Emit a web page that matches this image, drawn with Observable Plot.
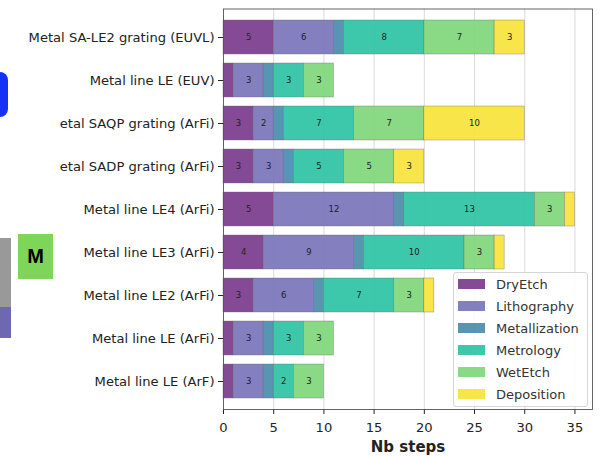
<!DOCTYPE html>
<html>
<head>
<meta charset="utf-8">
<script src="https://cdn.jsdelivr.net/npm/d3@7"></script>
<script src="https://cdn.jsdelivr.net/npm/@observablehq/plot@0.6"></script>
<style>
  html, body { margin: 0; padding: 0; background: #fff; }
  #wrap { position: relative; width: 602px; height: 456px; overflow: hidden; font-family: "DejaVu Sans", sans-serif; }
  #legend { position: absolute; left: 453px; top: 272px; width: 135px; background: rgba(255,255,255,0.85);
            border: 1px solid #d6d6d6; border-radius: 3px; box-sizing: border-box; padding: 0 0 1px 0; }
  .item { display: flex; align-items: center; height: 22px; font-size: 13px; color: #333; white-space: nowrap; }
  .sw { display: inline-block; width: 27px; height: 10px; margin-left: 4px; margin-right: 11px; flex: none; }
  .deco { position: absolute; }
</style>
</head>
<body>
<div id="wrap"></div>
<script>
const categories = [
  "Metal SA-LE2 grating (EUVL)",
  "Metal line LE (EUV)",
  "Metal SAQP grating (ArFi)",
  "Metal SADP grating (ArFi)",
  "Metal line LE4 (ArFi)",
  "Metal line LE3 (ArFi)",
  "Metal line LE2 (ArFi)",
  "Metal line LE (ArFi)",
  "Metal line LE (ArF)"
];
const types = ["DryEtch", "Lithography", "Metallization", "Metrology", "WetEtch", "Deposition"];
const colors = ["#7b3b8c", "#7a74b8", "#4a8cab", "#2ec3a4", "#80d67a", "#f6e33a"];
const dryEtch       = [5, 1, 3, 3, 5, 4, 3, 1, 1];
const lithography   = [6, 3, 2, 3, 12, 9, 6, 3, 3];
const metallization = [1, 1, 1, 1, 1, 1, 1, 1, 1];
const metrology     = [8, 3, 7, 5, 13, 10, 7, 3, 2];
const wetEtch       = [7, 3, 7, 5, 3, 3, 3, 3, 3];
const deposition    = [3, 0, 10, 3, 1, 1, 1, 0, 0];
const xTicks = [0, 5, 10, 15, 20, 25, 30, 35];

const series = [dryEtch, lithography, metallization, metrology, wetEtch, deposition];
const data = [];
categories.forEach((c, i) => {
  types.forEach((t, j) => {
    if (series[j][i] > 0) data.push({category: c, type: t, value: series[j][i]});
  });
});

const chart = Plot.plot({
  width: 602,
  height: 456,
  marginLeft: 223,
  marginRight: 10,
  marginTop: 8.5,
  marginBottom: 47,
  style: {fontFamily: "DejaVu Sans", fontSize: "13.1px", color: "#222", background: "transparent"},
  x: {domain: [0, 36.75], ticks: xTicks, tickSize: 5, tickPadding: 8, label: null},
  y: {domain: categories, padding: 0.2, tickSize: 5, tickPadding: 4, label: null},
  color: {domain: types, range: colors},
  marks: [
    Plot.ruleX(xTicks, {stroke: "#d0d0d0", strokeWidth: 0.8}),
    Plot.barX(data, Plot.stackX({x: "value", y: "category", fill: "type", fillOpacity: 0.92,
      stroke: "#666", strokeWidth: 0.5, strokeOpacity: 0.7, inset: 0})),
    Plot.text(data, Plot.stackX({x: "value", y: "category",
      text: d => d.value >= 2 ? String(d.value) : "", fill: "#222", fontSize: 8.5})),
    Plot.frame({stroke: "#555", strokeWidth: 0.9}),
    Plot.text(["Nb steps"], {frameAnchor: "bottom", dy: 42, fontWeight: "bold", fontSize: 15, fill: "#222"})
  ]
});

const wrap = document.getElementById("wrap");
wrap.appendChild(chart);

// overlays from the surrounding slide
const decos = [
  {l: 0, t: 115, w: 59, h: 66, bg: "#fff"},
  {l: 0, t: 72, w: 8, h: 45, bg: "#1531f6", r: "0 8px 8px 0"},
  {l: 0, t: 238, w: 11, h: 69, bg: "#999999"},
  {l: 0, t: 307, w: 11, h: 31, bg: "#6e68b0"},
  {l: 18, t: 234, w: 35, h: 45, bg: "#7fd45a", txt: "M"}
];
decos.forEach(d => {
  const e = document.createElement("div");
  e.className = "deco";
  e.style.left = d.l + "px"; e.style.top = d.t + "px";
  e.style.width = d.w + "px"; e.style.height = d.h + "px";
  e.style.background = d.bg;
  if (d.r) e.style.borderRadius = d.r;
  if (d.txt) {
    e.textContent = d.txt;
    e.style.font = "bold 20px 'Liberation Sans', Arial, sans-serif";
    e.style.display = "flex"; e.style.alignItems = "center"; e.style.justifyContent = "center";
    e.style.color = "#000";
  }
  wrap.appendChild(e);
});

// legend
const leg = document.createElement("div");
leg.id = "legend";
types.forEach((t, j) => {
  const row = document.createElement("div");
  row.className = "item";
  const sw = document.createElement("span");
  sw.className = "sw";
  sw.style.background = colors[j];
  sw.style.opacity = 0.92;
  row.appendChild(sw);
  row.appendChild(document.createTextNode(t));
  leg.appendChild(row);
});
wrap.appendChild(leg);
</script>
</body>
</html>
